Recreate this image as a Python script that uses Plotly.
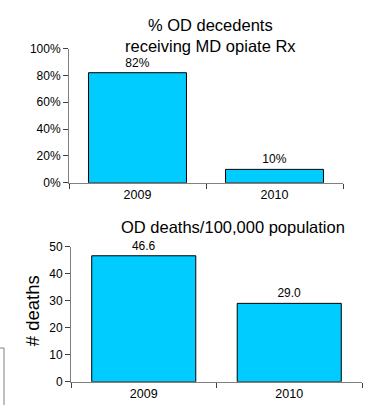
import plotly.graph_objects as go

years = ["2009", "2010"]
pct_receiving = [0.82, 0.10]
pct_labels = ["82%", "10%"]
death_rates = [46.6, 29.0]
death_labels = ["46.6", "29.0"]

W, H = 368, 412
FONT = "Liberation Sans, Arial, sans-serif"
BAR = "#00CCFF"
AXLINE = "#808080"
TICK = "#404040"

def px(x):
    return x / W

def py(y):
    return (H - y) / H

fig = go.Figure()
fig.add_trace(go.Bar(
    x=years, y=pct_receiving, text=pct_labels, textposition="outside",
    marker=dict(color=BAR, line=dict(color="black", width=1)),
    textfont=dict(size=12, color="black", family=FONT),
    cliponaxis=False, xaxis="x", yaxis="y", showlegend=False))
fig.add_trace(go.Bar(
    x=years, y=death_rates, text=death_labels, textposition="outside",
    marker=dict(color=BAR, line=dict(color="black", width=1)),
    textfont=dict(size=12, color="black", family=FONT),
    cliponaxis=False, xaxis="x2", yaxis="y2", showlegend=False))

common_x = dict(type="category", showline=True, linecolor=AXLINE, linewidth=1,
                ticks="outside", tickson="boundaries", ticklen=5, tickcolor=TICK,
                showgrid=False, tickfont=dict(size=12.5, color="black", family=FONT))
common_y = dict(showline=True, linecolor=AXLINE, linewidth=1, ticks="outside",
                ticklen=5, tickcolor=TICK, showgrid=False, zeroline=False,
                tickfont=dict(size=12, color="black", family=FONT))

fig.update_layout(
    width=W, height=H, margin=dict(l=0, r=0, t=0, b=0),
    paper_bgcolor="white", plot_bgcolor="white", bargap=0.285,
    font=dict(family=FONT, color="black"),
    xaxis=dict(domain=[px(69), px(343)], anchor="y", **common_x),
    yaxis=dict(domain=[py(182), py(43)], anchor="x", range=[0, 1], dtick=0.2,
               tickformat=".0%", **common_y),
    xaxis2=dict(domain=[px(71), px(362)], anchor="y2", **common_x),
    yaxis2=dict(domain=[py(388), py(248)], anchor="x2", range=[0, 50], dtick=10,
                **common_y),
    annotations=[
        dict(text="% OD decedents<br>receiving MD opiate Rx", x=px(210), y=py(29),
             xref="paper", yref="paper", showarrow=False, xanchor="center",
             yanchor="middle", font=dict(size=16.5, family=FONT, color="black")),
        dict(text="OD deaths/100,000 population", x=px(233), y=py(228),
             xref="paper", yref="paper", showarrow=False, xanchor="center",
             yanchor="middle", font=dict(size=16.5, family=FONT, color="black")),
        dict(text="# deaths", x=px(32), y=py(315), xref="paper", yref="paper",
             showarrow=False, textangle=-90, xanchor="center", yanchor="middle",
             font=dict(size=18.5, family=FONT, color="black")),
    ],
    shapes=[
        dict(type="line", xref="paper", yref="paper", x0=px(4), x1=px(4),
             y0=py(353), y1=py(412), line=dict(color="#808080", width=1)),
        dict(type="line", xref="paper", yref="paper", x0=px(0), x1=px(4),
             y0=py(353), y1=py(353), line=dict(color="#808080", width=1)),
    ],
)

fig.write_html("out.html")
